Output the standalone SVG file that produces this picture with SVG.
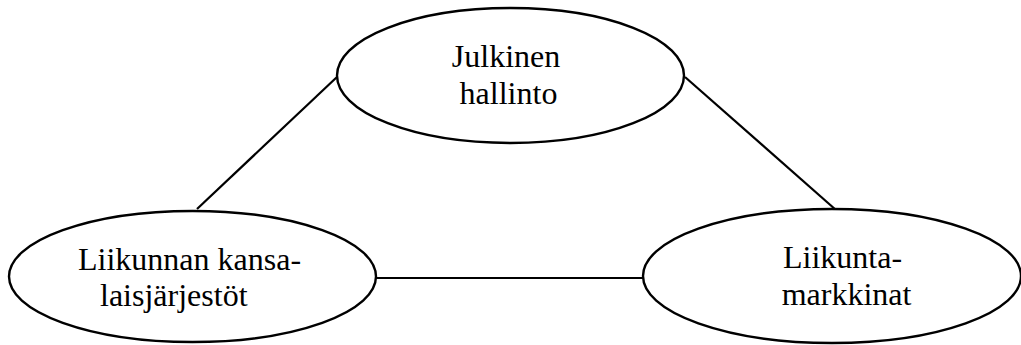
<svg xmlns="http://www.w3.org/2000/svg" width="1021" height="345" viewBox="0 0 1021 345">
<style>
.node ellipse{fill:#fff;stroke:#000;stroke-width:2.4}
.lbl{font-family:"Liberation Serif","Times New Roman",serif;font-size:32px;fill:#000}
.conn line{stroke:#000;stroke-width:2.2}
</style>
<rect width="1021" height="345" fill="#fff"/>
<g id="connectors" class="conn">
<line x1="197" y1="209" x2="337" y2="77"/>
<line x1="685" y1="77" x2="836" y2="210"/>
<line x1="376" y1="278" x2="644" y2="278"/>
</g>
<g id="node-julkinen" class="node">
<ellipse cx="510.5" cy="75.5" rx="173.5" ry="67.5"/>
<text class="lbl" x="506" y="67" text-anchor="middle">Julkinen</text>
<text class="lbl" x="508.5" y="104" text-anchor="middle">hallinto</text>
</g>
<g id="node-kansalais" class="node">
<ellipse cx="192.5" cy="276.5" rx="183.5" ry="65.5"/>
<text class="lbl" x="78" y="270">Liikunnan kansa-</text>
<text class="lbl" x="100" y="306">laisjärjestöt</text>
</g>
<g id="node-markkinat" class="node">
<ellipse cx="832" cy="276" rx="189" ry="67"/>
<text class="lbl" x="842.5" y="268" text-anchor="middle">Liikunta-</text>
<text class="lbl" x="846.5" y="305" text-anchor="middle">markkinat</text>
</g>
</svg>
